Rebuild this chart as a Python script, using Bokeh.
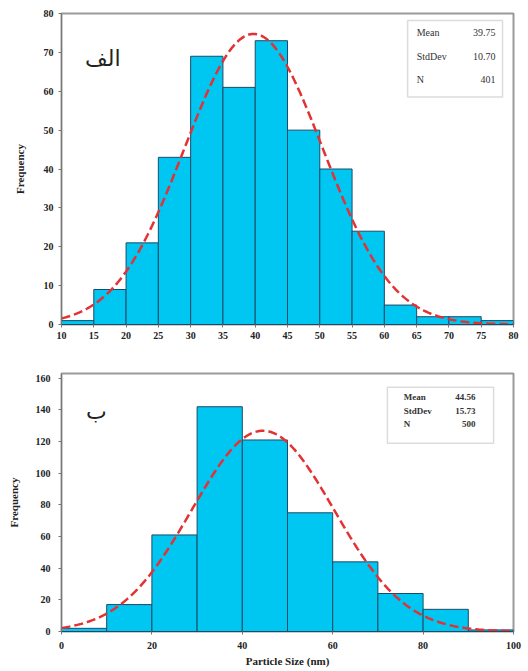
import numpy as np
from bokeh.plotting import figure
from bokeh.layouts import column
from bokeh.models import FixedTicker, Range1d, Label, BoxAnnotation
from bokeh.embed import file_html
from bokeh.resources import INLINE

# ---- data: panel A (الف) ----
a_edges = [10, 15, 20, 25, 30, 35, 40, 45, 50, 55, 60, 65, 70, 75, 80]
a_counts = [1, 9, 21, 43, 69, 61, 73, 50, 40, 24, 5, 2, 2, 1]
a_mean, a_sd, a_n = 39.75, 10.70, 401
a_stats = ["Mean", "StdDev", "N"]
a_stat_vals = ["39.75", "10.70", "401"]
a_xticks = [10, 15, 20, 25, 30, 35, 40, 45, 50, 55, 60, 65, 70, 75, 80]
a_yticks = [0, 10, 20, 30, 40, 50, 60, 70, 80]

# ---- data: panel B (ب) ----
b_edges = [0, 10, 20, 30, 40, 50, 60, 70, 80, 90, 100]
b_counts = [2, 17, 61, 142, 121, 75, 44, 24, 14, 1]
b_mean, b_sd, b_n = 44.56, 15.73, 500
b_stats = ["Mean", "StdDev", "N"]
b_stat_vals = ["44.56", "15.73", "500"]
b_xticks = [0, 20, 40, 60, 80, 100]
b_yticks = [0, 20, 40, 60, 80, 100, 120, 140, 160]

SERIF = "Liberation Serif"
BAR = "#00C6F2"
BAR_LINE = "#1d4a66"
CURVE = "#E23234"


def normal_curve(edges, mean, sd, n):
    bw = edges[1] - edges[0]
    xs = np.linspace(edges[0], edges[-1], 300)
    ys = n * bw / (sd * np.sqrt(2 * np.pi)) * np.exp(-0.5 * ((xs - mean) / sd) ** 2)
    return xs, ys


def style(p, xticks, yticks, tick_size, ylab_standoff):
    p.xgrid.visible = False
    p.ygrid.visible = False
    p.outline_line_color = "#9a9a9a"
    p.outline_line_width = 2
    p.background_fill_color = "white"
    p.border_fill_color = "white"
    p.xaxis.ticker = FixedTicker(ticks=xticks)
    p.yaxis.ticker = FixedTicker(ticks=yticks)
    for ax in (p.xaxis, p.yaxis):
        ax.major_label_text_font = SERIF
        ax.major_label_text_font_style = "bold"
        ax.major_label_text_font_size = tick_size
        ax.major_label_text_color = "#222222"
        ax.axis_line_color = "#777777"
        ax.major_tick_line_color = "#777777"
        ax.major_tick_in = 0
        ax.major_tick_out = 3
        ax.minor_tick_line_color = None
        ax.axis_label_text_font = SERIF
        ax.axis_label_text_font_style = "bold"
        ax.axis_label_text_font_size = "11px"
        ax.axis_label_text_color = "#222222"
    p.xaxis.axis_line_color = "#1d4a66"
    p.yaxis.axis_label = "Frequency"
    p.yaxis.axis_label_standoff = ylab_standoff
    p.yaxis.major_label_standoff = 5


# ---- panel A ----
p1 = figure(width=528, height=350, output_backend="svg", toolbar_location=None,
            x_range=Range1d(a_edges[0], a_edges[-1]), y_range=Range1d(0, 80),
            min_border_left=55, min_border_right=15, min_border_top=13, min_border_bottom=26)
p1.quad(left=a_edges[:-1], right=a_edges[1:], top=a_counts, bottom=0,
        fill_color=BAR, line_color=BAR_LINE, line_width=1)
xa, ya = normal_curve(a_edges, a_mean, a_sd, a_n)
p1.line(xa, ya, line_color=CURVE, line_width=2.5, line_dash="9 4")
style(p1, a_xticks, a_yticks, "10px", 15)
p1.xaxis.major_label_standoff = 4

p1.add_layout(BoxAnnotation(left=63.6, right=78.3, top=78.2, bottom=58.5,
                            fill_alpha=0, line_color="#8a8a8a", line_width=1.5))
for i, (nm, vv) in enumerate(zip(a_stats, a_stat_vals)):
    yy = 75.1 - i * 6.1
    p1.add_layout(Label(x=65.0, y=yy, text=nm, text_font=SERIF, text_font_size="10px",
                        text_baseline="middle", text_align="left", text_color="#333333"))
    p1.add_layout(Label(x=77.2, y=yy, text=vv, text_font=SERIF, text_font_size="10px",
                        text_baseline="middle", text_align="right", text_color="#333333"))
p1.add_layout(Label(x=16.4, y=68.5, text="الف", text_font="DejaVu Sans",
                    text_font_size="22px", text_baseline="middle", text_align="center",
                    text_color="#222222"))

# ---- panel B ----
p2 = figure(width=528, height=321, output_backend="svg", toolbar_location=None,
            x_range=Range1d(b_edges[0], b_edges[-1]), y_range=Range1d(0, 163),
            min_border_left=61, min_border_right=15, min_border_top=23, min_border_bottom=40)
p2.quad(left=b_edges[:-1], right=b_edges[1:], top=b_counts, bottom=0,
        fill_color=BAR, line_color=BAR_LINE, line_width=1)
xb, yb = normal_curve(b_edges, b_mean, b_sd, b_n)
p2.line(xb, yb, line_color=CURVE, line_width=2.5, line_dash="9 4")
style(p2, b_xticks, b_yticks, "10px", 13)
p2.xaxis.axis_label = "Particle Size (nm)"
p2.xaxis.axis_label_standoff = 3
p2.xaxis.major_label_standoff = 7
p2.yaxis.major_label_standoff = 8

p2.add_layout(BoxAnnotation(left=72.1, right=95.6, top=154.3, bottom=118.9,
                            fill_alpha=0, line_color="#8a8a8a", line_width=1.5))
for i, (nm, vv) in enumerate(zip(b_stats, b_stat_vals)):
    yy = 148.0 - i * 8.6
    p2.add_layout(Label(x=75.7, y=yy, text=nm, text_font=SERIF, text_font_size="9px",
                        text_font_style="bold", text_baseline="middle", text_align="left",
                        text_color="#333333"))
    p2.add_layout(Label(x=91.6, y=yy, text=vv, text_font=SERIF, text_font_size="9px",
                        text_font_style="bold", text_baseline="middle", text_align="right",
                        text_color="#333333"))
p2.add_layout(Label(x=7.7, y=139, text="ب", text_font="DejaVu Sans",
                    text_font_size="22px", text_baseline="middle", text_align="center",
                    text_color="#222222"))

layout = column(p1, p2)
open("out.html", "w").write(file_html(layout, INLINE))
